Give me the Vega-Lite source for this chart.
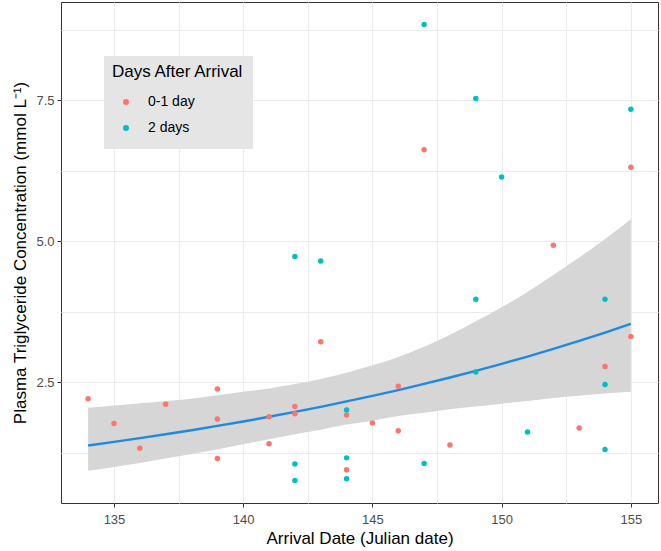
{
  "$schema": "https://vega.github.io/schema/vega-lite/v6.json",
  "width": 597,
  "height": 501,
  "autosize": {"type": "none"},
  "padding": {"left": 61, "top": 2, "right": 3, "bottom": 48},
  "background": "white",
  "config": {
    "font": "Liberation Sans",
    "view": {"stroke": "#333333", "strokeWidth": 1},
    "axis": {
      "domain": false,
      "gridColor": "#EBEBEB",
      "gridWidth": 1,
      "tickColor": "#333333",
      "tickSize": 4,
      "labelColor": "#4D4D4D",
      "labelFontSize": 13,
      "titleColor": "#000000",
      "titleFontSize": 17,
      "titleFontWeight": "normal"
    },
    "legend": {
      "orient": "none",
      "legendX": 43,
      "legendY": 54,
      "fillColor": "#E5E5E5",
      "padding": 8,
      "titleFontSize": 17,
      "titleFontWeight": "normal",
      "titleColor": "#000000",
      "titlePadding": 8,
      "labelFontSize": 14,
      "labelColor": "#000000",
      "labelOffset": 15,
      "rowPadding": 0,
      "clipHeight": 26,
      "symbolSize": 36,
      "symbolType": "circle",
      "symbolStrokeWidth": 0,
      "symbolOffset": 7
    }
  },
  "datasets": {
    "birds": [
      {"date": 134, "tg": 2.21, "group": "0-1 day"},
      {"date": 135, "tg": 1.77, "group": "0-1 day"},
      {"date": 136, "tg": 1.33, "group": "0-1 day"},
      {"date": 137, "tg": 2.11, "group": "0-1 day"},
      {"date": 139, "tg": 2.38, "group": "0-1 day"},
      {"date": 139, "tg": 1.85, "group": "0-1 day"},
      {"date": 139, "tg": 1.15, "group": "0-1 day"},
      {"date": 141, "tg": 1.89, "group": "0-1 day"},
      {"date": 141, "tg": 1.41, "group": "0-1 day"},
      {"date": 142, "tg": 2.07, "group": "0-1 day"},
      {"date": 142, "tg": 1.94, "group": "0-1 day"},
      {"date": 143, "tg": 3.22, "group": "0-1 day"},
      {"date": 144, "tg": 1.92, "group": "0-1 day"},
      {"date": 144, "tg": 0.95, "group": "0-1 day"},
      {"date": 145, "tg": 1.78, "group": "0-1 day"},
      {"date": 146, "tg": 2.43, "group": "0-1 day"},
      {"date": 146, "tg": 1.64, "group": "0-1 day"},
      {"date": 147, "tg": 6.62, "group": "0-1 day"},
      {"date": 148, "tg": 1.39, "group": "0-1 day"},
      {"date": 152, "tg": 4.93, "group": "0-1 day"},
      {"date": 153, "tg": 1.69, "group": "0-1 day"},
      {"date": 154, "tg": 2.78, "group": "0-1 day"},
      {"date": 155, "tg": 3.31, "group": "0-1 day"},
      {"date": 155, "tg": 6.31, "group": "0-1 day"},
      {"date": 142, "tg": 1.05, "group": "2 days"},
      {"date": 142, "tg": 0.76, "group": "2 days"},
      {"date": 142, "tg": 4.73, "group": "2 days"},
      {"date": 143, "tg": 4.65, "group": "2 days"},
      {"date": 144, "tg": 2.01, "group": "2 days"},
      {"date": 144, "tg": 1.16, "group": "2 days"},
      {"date": 144, "tg": 0.79, "group": "2 days"},
      {"date": 147, "tg": 1.06, "group": "2 days"},
      {"date": 147, "tg": 8.84, "group": "2 days"},
      {"date": 149, "tg": 3.97, "group": "2 days"},
      {"date": 149, "tg": 2.68, "group": "2 days"},
      {"date": 149, "tg": 7.53, "group": "2 days"},
      {"date": 150, "tg": 6.14, "group": "2 days"},
      {"date": 151, "tg": 1.62, "group": "2 days"},
      {"date": 154, "tg": 3.97, "group": "2 days"},
      {"date": 154, "tg": 2.46, "group": "2 days"},
      {"date": 154, "tg": 1.31, "group": "2 days"},
      {"date": 155, "tg": 7.34, "group": "2 days"}
    ],
    "fit": [
      {"date": 134, "fit": 1.380, "lower": 0.93, "upper": 2.05},
      {"date": 135, "fit": 1.443, "lower": 1.00, "upper": 2.09},
      {"date": 136, "fit": 1.509, "lower": 1.07, "upper": 2.13},
      {"date": 137, "fit": 1.578, "lower": 1.15, "upper": 2.17},
      {"date": 138, "fit": 1.650, "lower": 1.23, "upper": 2.21},
      {"date": 139, "fit": 1.726, "lower": 1.31, "upper": 2.27},
      {"date": 140, "fit": 1.805, "lower": 1.40, "upper": 2.33},
      {"date": 141, "fit": 1.888, "lower": 1.49, "upper": 2.39},
      {"date": 142, "fit": 1.974, "lower": 1.58, "upper": 2.47},
      {"date": 143, "fit": 2.065, "lower": 1.66, "upper": 2.56},
      {"date": 144, "fit": 2.160, "lower": 1.75, "upper": 2.67},
      {"date": 145, "fit": 2.259, "lower": 1.82, "upper": 2.80},
      {"date": 146, "fit": 2.362, "lower": 1.90, "upper": 2.95},
      {"date": 147, "fit": 2.471, "lower": 1.96, "upper": 3.13},
      {"date": 148, "fit": 2.584, "lower": 2.02, "upper": 3.34},
      {"date": 149, "fit": 2.702, "lower": 2.07, "upper": 3.58},
      {"date": 150, "fit": 2.826, "lower": 2.12, "upper": 3.83},
      {"date": 151, "fit": 2.956, "lower": 2.17, "upper": 4.10},
      {"date": 152, "fit": 3.091, "lower": 2.22, "upper": 4.40},
      {"date": 153, "fit": 3.233, "lower": 2.26, "upper": 4.71},
      {"date": 154, "fit": 3.381, "lower": 2.30, "upper": 5.04},
      {"date": 155, "fit": 3.536, "lower": 2.33, "upper": 5.39}
    ]
  },
  "layer": [
    {
      "data": {"name": "fit"},
      "mark": {"type": "area", "color": "#D6D6D6", "opacity": 1, "interpolate": "monotone"},
      "encoding": {
        "x": {
          "field": "date", "type": "quantitative",
          "scale": {"domain": [132.95, 156.05], "nice": false, "zero": false},
          "axis": {
            "title": "Arrival Date (Julian date)",
            "values": [135, 137.5, 140, 142.5, 145, 147.5, 150, 152.5, 155],
            "format": "d",
            "labelExpr": "datum.value % 5 === 0 ? datum.label : ''",
            "tickOpacity": {"condition": {"test": "datum.value % 5 === 0", "value": 1}, "value": 0},
            "labelPadding": 6,
            "titlePadding": 4
          }
        },
        "y": {
          "field": "lower", "type": "quantitative",
          "scale": {"domain": [0.36, 9.24], "nice": false, "zero": false},
          "axis": {
            "title": "Plasma Triglyceride Concentration (mmol L⁻¹)",
            "values": [1.25, 2.5, 3.75, 5, 6.25, 7.5, 8.75],
            "format": ".1f",
            "labelExpr": "datum.value % 2.5 === 0 ? datum.label : ''",
            "tickOpacity": {"condition": {"test": "datum.value % 2.5 === 0", "value": 1}, "value": 0},
            "labelPadding": 3,
            "titlePadding": 6
          }
        },
        "y2": {"field": "upper"}
      }
    },
    {
      "data": {"name": "fit"},
      "mark": {"type": "line", "color": "#1E88E5", "strokeWidth": 2.4, "interpolate": "monotone"},
      "encoding": {
        "x": {"field": "date", "type": "quantitative"},
        "y": {"field": "fit", "type": "quantitative"}
      }
    },
    {
      "data": {"name": "birds"},
      "mark": {"type": "circle", "size": 30, "opacity": 1},
      "encoding": {
        "x": {"field": "date", "type": "quantitative"},
        "y": {"field": "tg", "type": "quantitative"},
        "color": {
          "field": "group", "type": "nominal",
          "scale": {"domain": ["0-1 day", "2 days"], "range": ["#F8766D", "#00BFC4"]},
          "legend": {"title": "Days After Arrival"}
        }
      }
    }
  ]
}
